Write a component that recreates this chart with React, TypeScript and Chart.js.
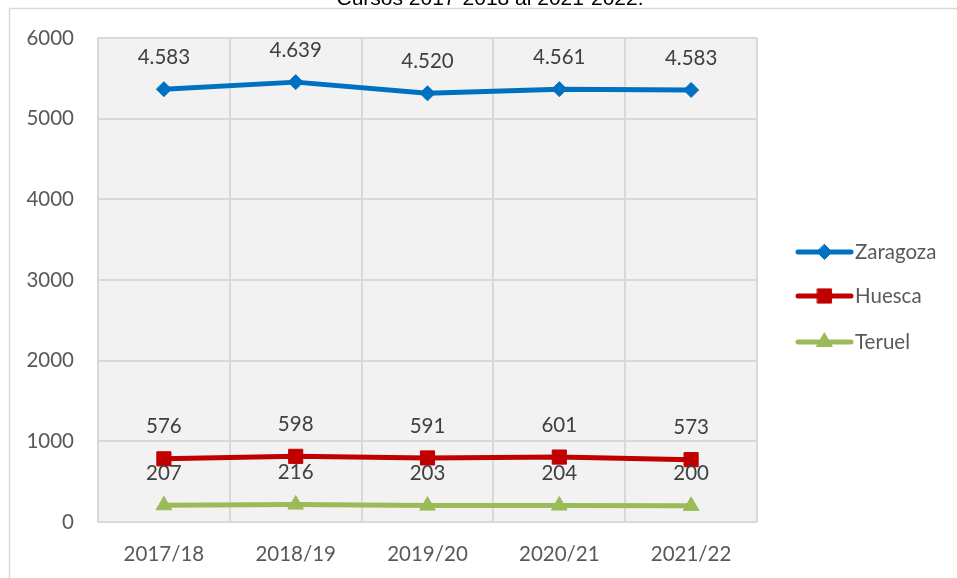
import React, { useEffect, useRef } from "react";
import { Chart, registerables } from "chart.js";

Chart.register(...registerables);

const categories = ["2017/18", "2018/19", "2019/20", "2020/21", "2021/22"];
const zaragoza = [4583, 4639, 4520, 4561, 4583];
const huesca = [576, 598, 591, 601, 573];
const teruel = [207, 216, 203, 204, 200];
const yTicks = [0, 1000, 2000, 3000, 4000, 5000, 6000];
const titleText = "Cursos 2017-2018 al 2021-2022.";

const COLORS = { zaragoza: "#0070C0", huesca: "#C00000", teruel: "#9BBB59" };
const FONT = "Lato, 'Open Sans', sans-serif";

function fmt(v: number): string {
  const s = String(Math.round(v));
  return s.replace(/\B(?=(\d{3})+(?!\d))/g, ".");
}

const legendItems = [
  { label: "Zaragoza", color: COLORS.zaragoza, style: "rectRot", radius: 7.5 },
  { label: "Huesca", color: COLORS.huesca, style: "rect", radius: 10 },
  { label: "Teruel", color: COLORS.teruel, style: "triangle", radius: 9 },
];

function marker(ctx: CanvasRenderingContext2D, style: string, r: number, x: number, y: number) {
  ctx.beginPath();
  if (style === "rectRot") {
    ctx.moveTo(x, y - r);
    ctx.lineTo(x + r, y);
    ctx.lineTo(x, y + r);
    ctx.lineTo(x - r, y);
  } else if (style === "rect") {
    const h = Math.SQRT1_2 * r;
    ctx.rect(x - h, y - h, 2 * h, 2 * h);
  } else {
    for (let k = 0; k < 3; k++) {
      const a = (k * 2 * Math.PI) / 3;
      const px = x + Math.sin(a) * r;
      const py = y - Math.cos(a) * r;
      if (k === 0) ctx.moveTo(px, py);
      else ctx.lineTo(px, py);
    }
  }
  ctx.closePath();
  ctx.fill();
  ctx.stroke();
}

const decorPlugin = {
  id: "decor",
  beforeDraw(chart: any) {
    const { ctx, chartArea } = chart;
    ctx.save();
    ctx.fillStyle = "#ffffff";
    ctx.fillRect(0, 0, chart.width, chart.height);
    ctx.fillStyle = "#f2f2f2";
    ctx.fillRect(chartArea.left, chartArea.top, chartArea.right - chartArea.left, chartArea.bottom - chartArea.top);
    ctx.strokeStyle = "#d9d9d9";
    ctx.lineWidth = 1.5;
    ctx.beginPath();
    ctx.moveTo(9.5, chart.height);
    ctx.lineTo(9.5, 8.5);
    ctx.lineTo(chart.width, 8.5);
    ctx.stroke();
    ctx.fillStyle = "#000000";
    ctx.font = "21px 'Liberation Sans', Arial, sans-serif";
    ctx.textAlign = "center";
    ctx.textBaseline = "alphabetic";
    ctx.fillText(titleText, 490, 5);
    ctx.restore();
  },
  afterDatasetsDraw(chart: any) {
    const { ctx } = chart;
    ctx.save();
    ctx.font = `20.5px ${FONT}`;
    ctx.fillStyle = "#404040";
    ctx.textAlign = "center";
    ctx.textBaseline = "middle";
    chart.data.datasets.forEach((ds: any, i: number) => {
      const meta = chart.getDatasetMeta(i);
      meta.data.forEach((pt: any, j: number) => {
        ctx.fillText(fmt(ds.data[j]), pt.x, pt.y - 32);
      });
    });
    ctx.restore();
  },
  afterDraw(chart: any) {
    const { ctx } = chart;
    ctx.save();
    const ys = [252, 296, 342];
    legendItems.forEach((it, k) => {
      const y = ys[k];
      ctx.strokeStyle = it.color;
      ctx.lineWidth = 5;
      ctx.lineCap = "round";
      ctx.beginPath();
      ctx.moveTo(798, y);
      ctx.lineTo(851, y);
      ctx.stroke();
      ctx.fillStyle = it.color;
      ctx.lineWidth = 1;
      marker(ctx, it.style, it.radius, 824.5, y);
      ctx.fillStyle = "#595959";
      ctx.font = `20.5px ${FONT}`;
      ctx.textAlign = "left";
      ctx.textBaseline = "middle";
      ctx.fillText(it.label, 855, y);
    });
    ctx.restore();
  },
};

export default function App() {
  const ref = useRef<HTMLCanvasElement | null>(null);
  useEffect(() => {
    if (!ref.current) return;
    const mk = (label: string, data: number[], color: string, style: string, radius: number) => ({
      label,
      data,
      borderColor: color,
      backgroundColor: color,
      pointBackgroundColor: color,
      pointBorderColor: color,
      pointStyle: style,
      pointRadius: radius,
      pointBorderWidth: 1,
      borderWidth: 5,
      borderCapStyle: "round",
      borderJoinStyle: "round",
      fill: false,
      tension: 0,
      stack: "s",
    });
    const chart = new Chart(ref.current, {
      type: "line",
      data: {
        labels: categories,
        datasets: [
          mk("Teruel", teruel, COLORS.teruel, "triangle", 9),
          mk("Huesca", huesca, COLORS.huesca, "rect", 10),
          mk("Zaragoza", zaragoza, COLORS.zaragoza, "rectRot", 7.5),
        ] as any,
      },
      options: {
        animation: false,
        responsive: false,
        events: [],
        layout: { padding: { left: 0, right: 200, top: 38, bottom: 0 } },
        plugins: { legend: { display: false }, title: { display: false }, tooltip: { enabled: false } },
        scales: {
          x: {
            offset: true,
            grid: { offset: true, color: "#d9d9d9", lineWidth: 2, drawTicks: false },
            border: { display: false },
            ticks: { font: { family: FONT, size: 20.5 }, color: "#595959", padding: 20, maxRotation: 0 },
            afterFit: (s: any) => { s.height = 56; },
          },
          y: {
            stacked: true,
            min: 0,
            max: 6000,
            afterBuildTicks: (s: any) => { s.ticks = yTicks.map((v) => ({ value: v })); },
            grid: { color: "#d9d9d9", lineWidth: 2, drawTicks: false },
            border: { display: false },
            ticks: {
              font: { family: FONT, size: 20.5 },
              color: "#595959",
              padding: 24,
              callback: (v: any) => String(v),
            },
            afterFit: (s: any) => { s.width = 98; },
          },
        },
      } as any,
      plugins: [decorPlugin],
    });
    return () => chart.destroy();
  }, []);
  return (
    <div style={{ position: "fixed", left: 0, top: 0, width: 957, height: 578 }}>
      <canvas ref={ref} width={957} height={578} style={{ width: 957, height: 578, display: "block" }} />
    </div>
  );
}
